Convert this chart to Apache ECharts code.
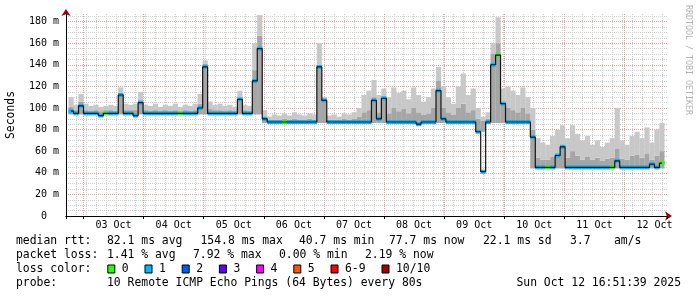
<!DOCTYPE html>
<html><head><meta charset="utf-8">
<script src="https://cdn.jsdelivr.net/npm/echarts@6/dist/echarts.min.js"></script>
<style>html,body{margin:0;padding:0;background:#fff}#c{width:697px;height:297px}</style>
</head><body><div id="c"></div>
<script>
// ---- data (2-hour samples starting 02 Oct 17:00) ----
const median = [97,95,102,95,95,95,93,95,95,95,
 112,95,95,93,105,95,95,95,95,95,
 95,95,95,95,95,95,100,138,95,95,
 95,95,95,95,108,95,95,125,155,90,
 87,87,87,87,87,87,87,87,87,87,
 138,107,87,87,87,87,87,87,87,87,
 87,107,90,109,87,87,87,87,87,87,
 85,87,87,87,116,90,87,87,87,87,
 87,87,78,41,87,140,149,104,87,87,
 87,87,87,73,45,45,45,45,56,64,
 45,45,45,45,45,45,45,45,45,45,
 51,45,45,45,45,45,45,48,45,49];
const smokeLo = [94,94,94,94,94,94,94,94,94,94,
 94,94,94,94,94,94,94,94,94,94,
 94,94,94,94,94,94,94,94,94,94,
 94,94,94,94,94,94,94,94,94,86,
 86,86,86,86,86,86,86,86,86,86,
 86,86,86,86,86,86,86,86,86,86,
 86,86,86,86,86,86,86,86,86,86,
 86,86,86,86,86,86,86,86,86,86,
 86,86,78,78,86,86,86,86,86,86,
 86,86,86,44,44,44,44,44,44,44,
 44,44,44,44,44,44,44,44,44,44,
 44,44,44,44,44,44,44,44,44,44];
const smokeMid = [101,98,106,98,97,98,97,98,98,97,
 114,98,98,98,104,98,97,98,97,98,
 97,98,97,98,97,98,104,141,99,98,
 98,97,98,97,109,98,97,135,167,92,
 89,89,89,90,89,90,89,89,90,89,
 140,108,89,89,89,90,89,90,92,96,
 98,110,96,110,95,100,97,99,95,100,
 96,94,95,100,125,100,96,94,100,104,
 96,98,90,88,90,150,160,106,100,98,
 96,100,95,80,54,52,52,55,58,64,
 54,60,56,52,55,52,54,51,53,54,
 62,53,52,56,57,54,58,52,56,60];
const smokeHi = [110,103,113,104,102,103,101,102,103,102,
 119,104,103,104,115,103,102,104,101,103,
 102,104,101,103,102,104,113,144,106,103,
 104,102,103,101,116,103,102,160,186,98,
 92,94,93,95,93,96,94,93,95,94,
 160,110,93,94,92,95,94,96,100,112,
 116,126,112,118,110,119,114,116,108,119,
 112,106,110,118,138,120,110,104,120,132,
 112,118,100,92,96,160,184,118,120,116,
 112,119,110,100,72,68,66,74,80,84,
 72,84,76,70,74,66,70,64,68,72,
 100,70,66,74,78,72,82,68,80,86];
const lossIdx = [1,1,1,1,1,1,1,0,1,1,
 1,1,1,1,1,1,1,1,1,1,
 1,1,0,1,1,1,1,1,1,1,
 1,1,1,1,1,1,1,1,1,1,
 1,1,1,0,1,1,1,1,1,1,
 1,1,1,1,1,1,1,1,1,1,
 1,1,1,1,1,1,1,1,1,1,
 1,1,1,1,1,1,1,1,1,1,
 1,1,1,1,1,1,0,1,1,1,
 1,1,1,1,1,1,0,1,1,1,
 1,1,1,1,1,1,1,1,1,0,
 1,1,1,1,1,1,1,1,1,0];
const lossLabels = ['0','1','2','3','4','5','6-9','10/10'];
const lossColors = ['#26ff00','#00b8ff','#0059ff','#5e00ff','#ff00ff','#ff5500','#ff0000','#a00000'];
const rttLine = ['median rtt:','82.1 ms avg','154.8 ms max','40.7 ms min','77.7 ms now','22.1 ms sd','3.7','am/s'];
const lossLine = ['packet loss:','1.41 % avg','7.92 % max','0.00 % min','2.19 % now'];
const probeLine = ['probe:','10 Remote ICMP Echo Pings (64 Bytes) every 80s'];
const stamp = 'Sun Oct 12 16:51:39 2025';
const watermark = 'RRDTOOL / TOBI OETIKER';
const months = ['Jan','Feb','Mar','Apr','May','Jun','Jul','Aug','Sep','Oct','Nov','Dec'];

// ---- chart ----
const H = 3600 * 1000;
const start = new Date(2025, 9, 2, 17, 0, 0).getTime();
const end = start + 240 * H;
const step = 2 * H;
const times = median.map((_, i) => start + i * step + step / 2);
const pair = arr => arr.map((v, i) => [times[i], v]);
const darkH = smokeMid.map((v, i) => v - smokeLo[i]);
const lightH = smokeHi.map((v, i) => v - smokeMid[i]);

const MONO = 'DejaVu Sans Mono';
const pink = '#e6a2a2', grey = '#cfcfcf';
const dot = [1, 1];

const graphics = [];
const addText = (x, y, t, extra) => graphics.push({type:'text', x:x, y:y, silent:true,
  style:Object.assign({text:t, fill:'#000', font:'11.4px "' + MONO + '"', align:'left', verticalAlign:'middle'}, extra||{})});
const rttX = [16,107,200.5,299,389,483,570,614];
rttLine.forEach((t, i) => addText(rttX[i], 240.8, t));
const lossX = [16,107,193,279,365];
lossLine.forEach((t, i) => addText(lossX[i], 254.9, t));
addText(16, 268.9, 'loss color:');
let bx = 107.8;
lossLabels.forEach((t, i) => {
  graphics.push({type:'rect', silent:true, shape:{x:bx, y:265, width:7, height:8},
    style:{fill:lossColors[i], stroke:'#000', lineWidth:1}});
  addText(bx + 14, 268.9, t);
  bx += 30.3 + t.length * 6.9;
});
addText(16, 283, probeLine[0]);
addText(107, 283, probeLine[1]);
addText(681, 283, stamp, {align:'right'});
graphics.push({type:'text', x:688.5, y:60, rotation:-Math.PI/2, silent:true,
  style:{text:watermark, fill:'#b4b4b4', font:'8.3px "' + MONO + '"', align:'center', verticalAlign:'middle'}});

const chart = echarts.init(document.getElementById('c'), null, {renderer:'canvas', width:697, height:297});
chart.setOption({
  animation:false,
  backgroundColor:'#fff',
  grid:{left:66, top:14, width:601, height:202, containLabel:false, outerBoundsMode:'none'},
  xAxis:[
    {type:'time', position:'bottom', z:0, min:start, max:end, minInterval:6*H, maxInterval:6*H,
     axisLine:{show:true, onZero:false, lineStyle:{color:'#a00000', width:1}, symbol:['none','arrow'], symbolSize:[7,7], symbolOffset:[0,5]},
     axisTick:{show:false}, axisLabel:{show:false},
     splitLine:{show:true, showMinLine:false, showMaxLine:false, lineStyle:{color:grey, type:dot, width:1}}},
    {type:'time', position:'bottom', z:1, min:start, max:end, minInterval:24*H, maxInterval:24*H,
     axisLine:{show:true, onZero:false, lineStyle:{color:'#000', width:1}},
     axisTick:{show:true, length:3, lineStyle:{color:'#000'}}, axisLabel:{show:false},
     splitLine:{show:true, showMinLine:false, showMaxLine:false, lineStyle:{color:pink, type:dot, width:1}}},
    {type:'time', position:'bottom', z:1, min:start - 12*H, max:end - 12*H, minInterval:24*H, maxInterval:24*H,
     axisLine:{show:false}, axisTick:{show:false}, splitLine:{show:false},
     axisLabel:{show:true, showMinLabel:false, showMaxLabel:false, margin:4, color:'#000', fontFamily:MONO, fontSize:10,
       formatter:function(v){ const d = new Date(v); if (d.getHours() !== 0) return ''; return String(d.getDate()).padStart(2,'0') + ' ' + months[d.getMonth()]; }}}
  ],
  yAxis:[
    {type:'value', min:0, max:187, interval:5, position:'left', z:0,
     axisLine:{show:true, onZero:false, lineStyle:{color:'#a00000', width:1}, symbol:['none','arrow'], symbolSize:[7,7], symbolOffset:[0,5]},
     axisTick:{show:false}, axisLabel:{show:false},
     splitLine:{show:true, showMinLine:false, showMaxLine:false, lineStyle:{color:grey, type:dot, width:1}}},
    {type:'value', min:0, max:187, interval:20, position:'left', z:1,
     name:'Seconds', nameLocation:'middle', nameGap:49, nameRotate:90,
     nameTextStyle:{color:'#000', fontFamily:MONO, fontSize:11.4},
     axisLine:{show:true, onZero:false, lineStyle:{color:'#000', width:1}}, axisTick:{show:false},
     axisLabel:{color:'#000', fontFamily:MONO, fontSize:10, margin:7, showMaxLabel:false,
       formatter:function(v){ if (v % 20 !== 0) return ''; return v === 0 ? '0  ' : v + ' m'; }},
     splitLine:{show:true, showMinLine:false, showMaxLine:false, lineStyle:{color:pink, type:dot, width:1}}}
  ],
  series:[
    {type:'bar', stack:'smoke', xAxisIndex:0, yAxisIndex:0, data:pair(smokeLo), barWidth:5.2, silent:true,
     itemStyle:{color:'rgba(0,0,0,0)'}},
    {type:'bar', stack:'smoke', xAxisIndex:0, yAxisIndex:0, data:pair(darkH), barWidth:5.2, silent:true,
     itemStyle:{color:'#a6a6a6'}},
    {type:'bar', stack:'smoke', xAxisIndex:0, yAxisIndex:0, data:pair(lightH), barWidth:5.2, silent:true,
     itemStyle:{color:'#c8c8c8'}},
    {type:'line', step:'middle', xAxisIndex:0, yAxisIndex:0, data:pair(median), showSymbol:false, silent:true,
     lineStyle:{color:'#141414', width:1.2}},
    {type:'scatter', xAxisIndex:0, yAxisIndex:0, data:pair(median), symbol:'rect', symbolSize:[5.2,4], silent:true,
     itemStyle:{opacity:1, color:function(p){ return lossColors[lossIdx[p.dataIndex]]; }}}
  ],
  graphic:graphics
});
</script></body></html>
